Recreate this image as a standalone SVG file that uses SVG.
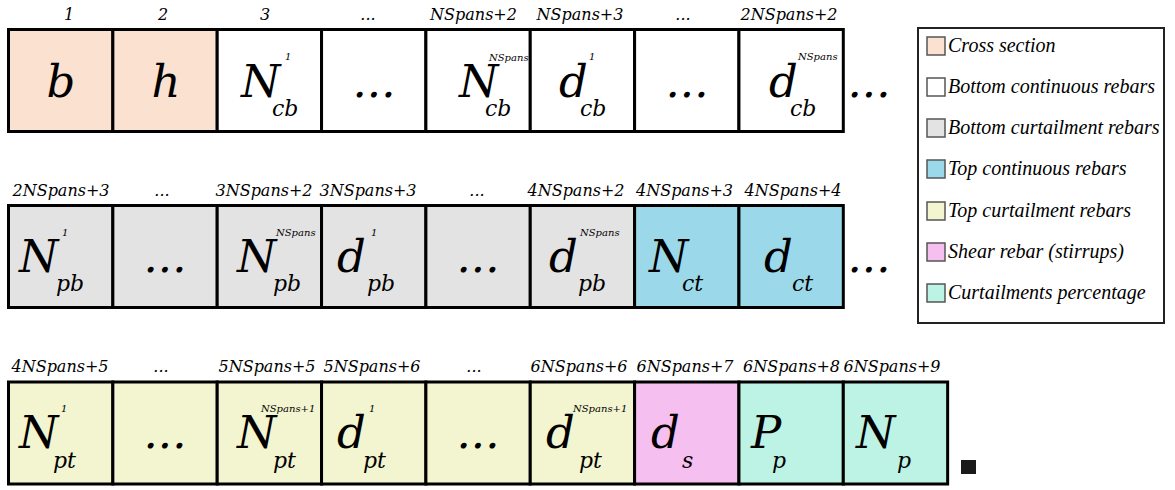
<svg xmlns="http://www.w3.org/2000/svg" width="1175" height="490" viewBox="0 0 1175 490">
<style>
.c{stroke:#000;stroke-width:3}
.pe{fill:#fbe1cf}.wh{fill:#fff}.gr{fill:#e3e3e3}.bl{fill:#9bd9ea}.ye{fill:#f2f5cf}.pk{fill:#f5bff0}.mi{fill:#bdf3e5}
text{font-family:"DejaVu Serif",serif;font-style:italic;fill:#000}
.m{font-size:45px}
.s{font-size:22px}
.u{font-size:10px}
.d{font-size:45px;text-anchor:middle}
.l{font-size:16px;text-anchor:middle}
.g{font-family:"Liberation Serif",serif;font-size:20px}
.sw{stroke:#555;stroke-width:1.5}
</style>
<rect width="1175" height="490" fill="#fff"/>
<g id="labels">
<text class="l" x="69" y="20">1</text>
<text class="l" x="163" y="20">2</text>
<text class="l" x="265" y="20">3</text>
<text class="l" x="368" y="20">...</text>
<text class="l" x="473.5" y="20">NSpans+2</text>
<text class="l" x="580" y="20">NSpans+3</text>
<text class="l" x="683" y="20">...</text>
<text class="l" x="789" y="20">2NSpans+2</text>
<text class="l" x="61" y="196">2NSpans+3</text>
<text class="l" x="162" y="196">...</text>
<text class="l" x="264" y="196">3NSpans+2</text>
<text class="l" x="368" y="196">3NSpans+3</text>
<text class="l" x="477" y="196">...</text>
<text class="l" x="576" y="196">4NSpans+2</text>
<text class="l" x="684.5" y="196">4NSpans+3</text>
<text class="l" x="793" y="196">4NSpans+4</text>
<text class="l" x="60" y="372">4NSpans+5</text>
<text class="l" x="161" y="372">...</text>
<text class="l" x="267" y="372">5NSpans+5</text>
<text class="l" x="372" y="372">5NSpans+6</text>
<text class="l" x="474" y="372">...</text>
<text class="l" x="579" y="372">6NSpans+6</text>
<text class="l" x="685" y="372">6NSpans+7</text>
<text class="l" x="791.5" y="372">6NSpans+8</text>
<text class="l" x="892" y="372">6NSpans+9</text>
</g>
<g id="r1c1"><rect class="c pe" x="8.5" y="29.5" width="104.35" height="102"/><text class="d" x="61" y="97">b</text></g>
<g id="r1c2"><rect class="c pe" x="112.85" y="29.5" width="104.35" height="102"/><text class="d" x="166" y="97">h</text></g>
<g id="r1c3"><rect class="c wh" x="217.2" y="29.5" width="104.35" height="102"/><text class="m" x="241" y="97">N</text><text class="u" x="285" y="60">1</text><text class="s" x="272" y="116">cb</text></g>
<g id="r1c4"><rect class="c wh" x="321.55" y="29.5" width="104.35" height="102"/><text class="d" x="374" y="97">...</text></g>
<g id="r1c5"><rect class="c wh" x="425.9" y="29.5" width="104.35" height="102"/><text class="m" x="459" y="97">N</text><text class="u" x="489" y="61">NSpans</text><text class="s" x="485" y="116">cb</text></g>
<g id="r1c6"><rect class="c wh" x="530.25" y="29.5" width="104.35" height="102"/><text class="m" x="559" y="97">d</text><text class="u" x="589" y="60">1</text><text class="s" x="580" y="116">cb</text></g>
<g id="r1c7"><rect class="c wh" x="634.6" y="29.5" width="104.35" height="102"/><text class="d" x="687" y="97">...</text></g>
<g id="r1c8"><rect class="c wh" x="738.95" y="29.5" width="104.35" height="102"/><text class="m" x="769" y="97">d</text><text class="u" x="798" y="60">NSpans</text><text class="s" x="790" y="116">cb</text></g>
<g id="r1more"><text class="d" x="869" y="97">...</text></g>
<g id="r2c1"><rect class="c gr" x="8.5" y="205.5" width="104.35" height="102"/><text class="m" x="19" y="272">N</text><text class="u" x="62" y="236">1</text><text class="s" x="56" y="291">pb</text></g>
<g id="r2c2"><rect class="c gr" x="112.85" y="205.5" width="104.35" height="102"/><text class="d" x="165" y="272">...</text></g>
<g id="r2c3"><rect class="c gr" x="217.2" y="205.5" width="104.35" height="102"/><text class="m" x="237" y="272">N</text><text class="u" x="276" y="236">NSpans</text><text class="s" x="273" y="291">pb</text></g>
<g id="r2c4"><rect class="c gr" x="321.55" y="205.5" width="104.35" height="102"/><text class="m" x="337" y="272">d</text><text class="u" x="371" y="236">1</text><text class="s" x="367" y="291">pb</text></g>
<g id="r2c5"><rect class="c gr" x="425.9" y="205.5" width="104.35" height="102"/><text class="d" x="478" y="272">...</text></g>
<g id="r2c6"><rect class="c gr" x="530.25" y="205.5" width="104.35" height="102"/><text class="m" x="549" y="272">d</text><text class="u" x="580" y="236">NSpans</text><text class="s" x="578" y="291">pb</text></g>
<g id="r2c7"><rect class="c bl" x="634.6" y="205.5" width="104.35" height="102"/><text class="m" x="649" y="272">N</text><text class="s" x="682" y="291">ct</text></g>
<g id="r2c8"><rect class="c bl" x="738.95" y="205.5" width="104.35" height="102"/><text class="m" x="764" y="272">d</text><text class="s" x="792" y="291">ct</text></g>
<g id="r2more"><text class="d" x="869" y="272">...</text></g>
<g id="r3c1"><rect class="c ye" x="8.5" y="382" width="104.35" height="102"/><text class="m" x="19" y="448">N</text><text class="u" x="61" y="412">1</text><text class="s" x="53" y="468">pt</text></g>
<g id="r3c2"><rect class="c ye" x="112.85" y="382" width="104.35" height="102"/><text class="d" x="165" y="448">...</text></g>
<g id="r3c3"><rect class="c ye" x="217.2" y="382" width="104.35" height="102"/><text class="m" x="237" y="448">N</text><text class="u" x="261" y="412">NSpans+1</text><text class="s" x="273" y="468">pt</text></g>
<g id="r3c4"><rect class="c ye" x="321.55" y="382" width="104.35" height="102"/><text class="m" x="337" y="448">d</text><text class="u" x="369" y="412">1</text><text class="s" x="363" y="468">pt</text></g>
<g id="r3c5"><rect class="c ye" x="425.9" y="382" width="104.35" height="102"/><text class="d" x="478" y="448">...</text></g>
<g id="r3c6"><rect class="c ye" x="530.25" y="382" width="104.35" height="102"/><text class="m" x="546" y="448">d</text><text class="u" x="573" y="412">NSpans+1</text><text class="s" x="579" y="468">pt</text></g>
<g id="r3c7"><rect class="c pk" x="634.6" y="382" width="104.35" height="102"/><text class="m" x="651" y="448">d</text><text class="s" x="682" y="468">s</text></g>
<g id="r3c8"><rect class="c mi" x="738.95" y="382" width="104.35" height="102"/><text class="m" x="751" y="448">P</text><text class="s" x="772" y="468">p</text></g>
<g id="r3c9"><rect class="c mi" x="843.3" y="382" width="104.35" height="102"/><text class="m" x="856" y="448">N</text><text class="s" x="897" y="468">p</text></g>
<g id="end"><rect x="961" y="460" width="15" height="14" fill="#1a1a1a"/></g>
<g id="legend">
<rect x="918" y="28" width="246" height="295" fill="#fff" stroke="#222" stroke-width="2"/>
<rect class="sw pe" x="927" y="37" width="18" height="18"/><text class="g" x="948" y="52">Cross section</text>
<rect class="sw wh" x="927" y="78" width="18" height="18"/><text class="g" x="948" y="93">Bottom continuous rebars</text>
<rect class="sw gr" x="927" y="119" width="18" height="18"/><text class="g" x="948" y="134">Bottom curtailment rebars</text>
<rect class="sw bl" x="927" y="160" width="18" height="18"/><text class="g" x="948" y="175">Top continuous rebars</text>
<rect class="sw ye" x="927" y="202" width="18" height="18"/><text class="g" x="948" y="217">Top curtailment rebars</text>
<rect class="sw pk" x="927" y="243" width="18" height="18"/><text class="g" x="948" y="258">Shear rebar (stirrups)</text>
<rect class="sw mi" x="927" y="284" width="18" height="18"/><text class="g" x="948" y="299">Curtailments percentage</text>
</g>
</svg>
